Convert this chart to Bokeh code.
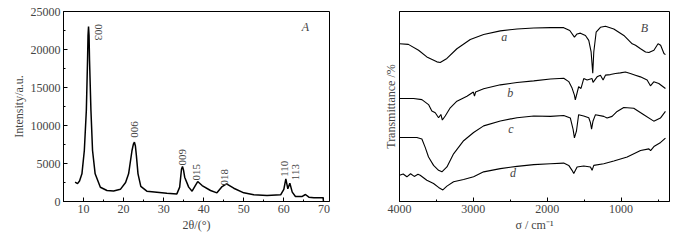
from bokeh.plotting import figure
from bokeh.layouts import row
from bokeh.models import Range1d, FixedTicker, Label
from bokeh.embed import file_html
from bokeh.resources import INLINE
import math

# ---- Panel A: XRD ----
xrd_2theta = [7.9, 8.5, 9.0, 9.6, 10.2, 10.7, 11.0, 11.12, 11.25, 11.38, 11.5, 11.85, 12.25, 12.9,
              14.2, 15.85, 17.5, 19.2, 20.5, 21.25, 22.1, 22.45, 22.7, 22.95, 23.2, 23.6, 24.3,
              25.8, 28.3, 30.8, 33.3, 34.0, 34.45, 34.7, 34.95, 35.25, 36.25, 37.1, 37.9, 38.5,
              39.6, 41.7, 43.3, 44.6, 45.7, 47.5, 50.0, 52.5, 55.8, 59.2, 60.0, 60.5, 61.0,
              61.5, 62.1, 62.9, 64.6, 65.4, 66.25, 67.5, 69.8, 69.9]
xrd_int = [2540, 2350, 2700, 3640, 6710, 11970, 18550, 21800, 23030, 21800, 18550, 11970, 6710,
           3640, 1880, 1450, 1380, 1600, 2500, 3640, 6710, 7550, 7800, 7300, 6000, 3640, 2000,
           1360, 1230, 1100, 1000, 1890, 4250, 4600, 4150, 3200, 1890, 1360, 2100, 2630,
           2100, 1450, 1140, 1970, 2320, 1750, 1140, 880, 790, 880, 1600, 2980, 1670,
           2410, 1230, 660, 660, 920, 570, 480, 480, 0]
peak_labels = ["003", "006", "009", "015", "018", "110", "113"]
peak_x = [13.75, 22.75, 34.75, 38.3, 45.2, 60.2, 62.9]
peak_y = [22280, 9470, 5830, 3860, 3200, 4300, 3860]

# ---- Panel B: IR ----
ir_a_x = [4000, 3880, 3742, 3630, 3494, 3449, 3358, 3223, 3042, 2861, 2635, 2409, 2183, 1957,
          1777, 1695, 1632, 1596, 1551, 1483, 1438, 1406, 1384, 1370, 1338, 1280, 1212, 1099,
          963, 850, 805, 737, 669, 624, 556, 500, 465, 420, 400]
ir_a_y = [83.0, 82.7, 79.6, 76.1, 73.5, 73.2, 75.3, 80.4, 85.3, 87.9, 89.8, 90.8, 91.3, 91.5,
          91.5, 90.0, 86.5, 88.2, 88.6, 87.4, 84.8, 78.7, 67.5, 78.7, 89.1, 91.7, 92.2, 90.8,
          87.4, 83.0, 82.2, 80.4, 78.7, 78.4, 79.6, 83.0, 82.2, 77.9, 77.3]
ir_b_x = [4000, 3810, 3697, 3607, 3562, 3516, 3471, 3440, 3420, 3381, 3313, 3223, 3087, 3000,
          2985, 2970, 2861, 2635, 2409, 2183, 1957, 1777, 1709, 1664, 1632, 1620, 1575, 1543,
          1506, 1460, 1393, 1380, 1325, 1280, 1244, 1212, 1145, 1077, 1010, 942, 875, 807, 739,
          648, 603, 558, 490, 400]
ir_b_y = [54.2, 54.2, 53.6, 51.0, 47.6, 46.7, 44.1, 45.8, 42.9, 45.0, 49.3, 52.8, 55.4, 57.6,
          55.5, 57.6, 59.3, 61.4, 62.6, 63.5, 64.5, 64.9, 63.1, 59.7, 56.0, 53.5, 60.4, 59.5,
          64.7, 63.9, 64.7, 62.7, 65.6, 66.5, 63.9, 66.5, 66.8, 67.4, 67.7, 68.2, 67.4, 66.5, 65.6,
          63.9, 60.9, 63.0, 62.1, 59.5]
ir_c_x = [4000, 3765, 3697, 3652, 3607, 3539, 3471, 3426, 3358, 3268, 3132, 2997, 2861, 2635,
          2409, 2183, 1958, 1777, 1687, 1650, 1632, 1605, 1575, 1506, 1438, 1415, 1400, 1380,
          1347, 1235, 1190, 1122, 1054, 964, 829, 693, 558, 468, 400]
ir_c_y = [33.7, 33.7, 32.9, 28.5, 23.4, 19.0, 16.4, 15.6, 18.2, 25.1, 32.0, 36.3, 39.8, 42.4,
          44.1, 45.0, 44.8, 45.3, 43.9, 38.0, 33.5, 37.0, 45.7, 45.0, 44.1, 41.5, 38.1, 42.4,
          45.7, 44.8, 43.9, 44.8, 47.4, 49.5, 49.1, 45.7, 42.3, 43.9, 47.4]
ir_d_x = [4000, 3950, 3900, 3850, 3800, 3750, 3720, 3630, 3539, 3471, 3413, 3358, 3268, 3132,
          2997, 2861, 2635, 2409, 2183, 1957, 1777, 1709, 1664, 1641, 1596, 1506, 1415, 1393,
          1370, 1235, 1099, 918, 737, 624, 601, 556, 465, 400]
ir_d_y = [13.8, 14.5, 13.0, 14.6, 13.2, 14.3, 13.8, 11.2, 9.5, 7.4, 6.1, 8.1, 10.4, 11.6,
          13.0, 15.6, 17.3, 18.5, 19.4, 19.9, 20.2, 19.0, 16.4, 14.7, 18.2, 18.7, 18.2, 16.4,
          19.0, 19.9, 21.3, 23.4, 26.8, 27.7, 26.8, 28.9, 31.1, 33.4]
curve_names = ["a", "b", "c", "d"]
curve_label_x = [2581, 2500, 2491, 2464]
curve_label_y = [86.5, 57.1, 38.1, 15.1]

FONT = "Liberation Serif"


def style(p):
    p.outline_line_color = "black"
    p.outline_line_width = 1
    p.xgrid.visible = False
    p.ygrid.visible = False
    p.background_fill_color = "white"
    p.border_fill_color = "white"
    for ax in (p.xaxis[0], p.yaxis[0]):
        ax.axis_line_color = "black"
        ax.major_tick_in = 4
        ax.major_tick_out = 0
        ax.minor_tick_in = 2
        ax.minor_tick_out = 0
        ax.major_label_text_font = FONT
        ax.major_label_text_font_size = "12px"
        ax.axis_label_text_font = FONT
        ax.axis_label_text_font_size = "12px"
        ax.axis_label_text_font_style = "normal"
        ax.major_label_standoff = 3
        ax.axis_label_standoff = 2


p1 = figure(width=350, height=241, output_backend="svg", toolbar_location=None,
            x_range=Range1d(5, 71.4), y_range=Range1d(0, 25000),
            min_border_left=63, min_border_right=21, min_border_top=11, min_border_bottom=40)
style(p1)
p1.line(xrd_2theta, xrd_int, line_color="black", line_width=1.5)
p1.xaxis.ticker = FixedTicker(ticks=[10, 20, 30, 40, 50, 60, 70],
                              minor_ticks=[5, 15, 25, 35, 45, 55, 65])
p1.yaxis.ticker = FixedTicker(ticks=[0, 5000, 10000, 15000, 20000, 25000],
                              minor_ticks=[2500, 7500, 12500, 17500, 22500])
p1.xaxis.axis_label = "2θ/(°)"
p1.yaxis.axis_label = "Intensity/a.u."
for i, t in enumerate(peak_labels):
    ang = -math.pi / 2 if i == 0 else math.pi / 2
    p1.add_layout(Label(x=peak_x[i], y=peak_y[i], text=t, angle=ang,
                        text_align="center", text_baseline="middle",
                        text_font=FONT, text_font_size="11px"))
p1.add_layout(Label(x=65.4, y=22940, text="A", text_font=FONT, text_font_style="italic",
                    text_font_size="12px", text_align="center", text_baseline="middle"))

p2 = figure(width=350, height=241, output_backend="svg", toolbar_location=None,
            x_range=Range1d(4000, 345), y_range=Range1d(0, 100),
            min_border_left=49, min_border_right=31, min_border_top=9, min_border_bottom=40)
style(p2)
for xs, ys in ((ir_a_x, ir_a_y), (ir_b_x, ir_b_y), (ir_c_x, ir_c_y), (ir_d_x, ir_d_y)):
    p2.line(xs, ys, line_color="black", line_width=1.1)
p2.xaxis.ticker = FixedTicker(ticks=[4000, 3000, 2000, 1000],
                              minor_ticks=[3500, 2500, 1500, 500])
p2.yaxis.ticker = FixedTicker(ticks=[])
p2.yaxis.major_label_text_font_size = "0px"
p2.xaxis.axis_label = "σ / cm⁻¹"
p2.yaxis.axis_label = "Transmittance /%"
for n, lx, ly in zip(curve_names, curve_label_x, curve_label_y):
    p2.add_layout(Label(x=lx, y=ly, text=n, text_font=FONT, text_font_style="italic",
                        text_font_size="12px", text_align="center", text_baseline="middle"))
p2.add_layout(Label(x=683, y=91.2, text="B", text_font=FONT, text_font_style="italic",
                    text_font_size="12px", text_align="center", text_baseline="middle"))

layout = row(p1, p2)
open("out.html", "w").write(file_html(layout, INLINE))
